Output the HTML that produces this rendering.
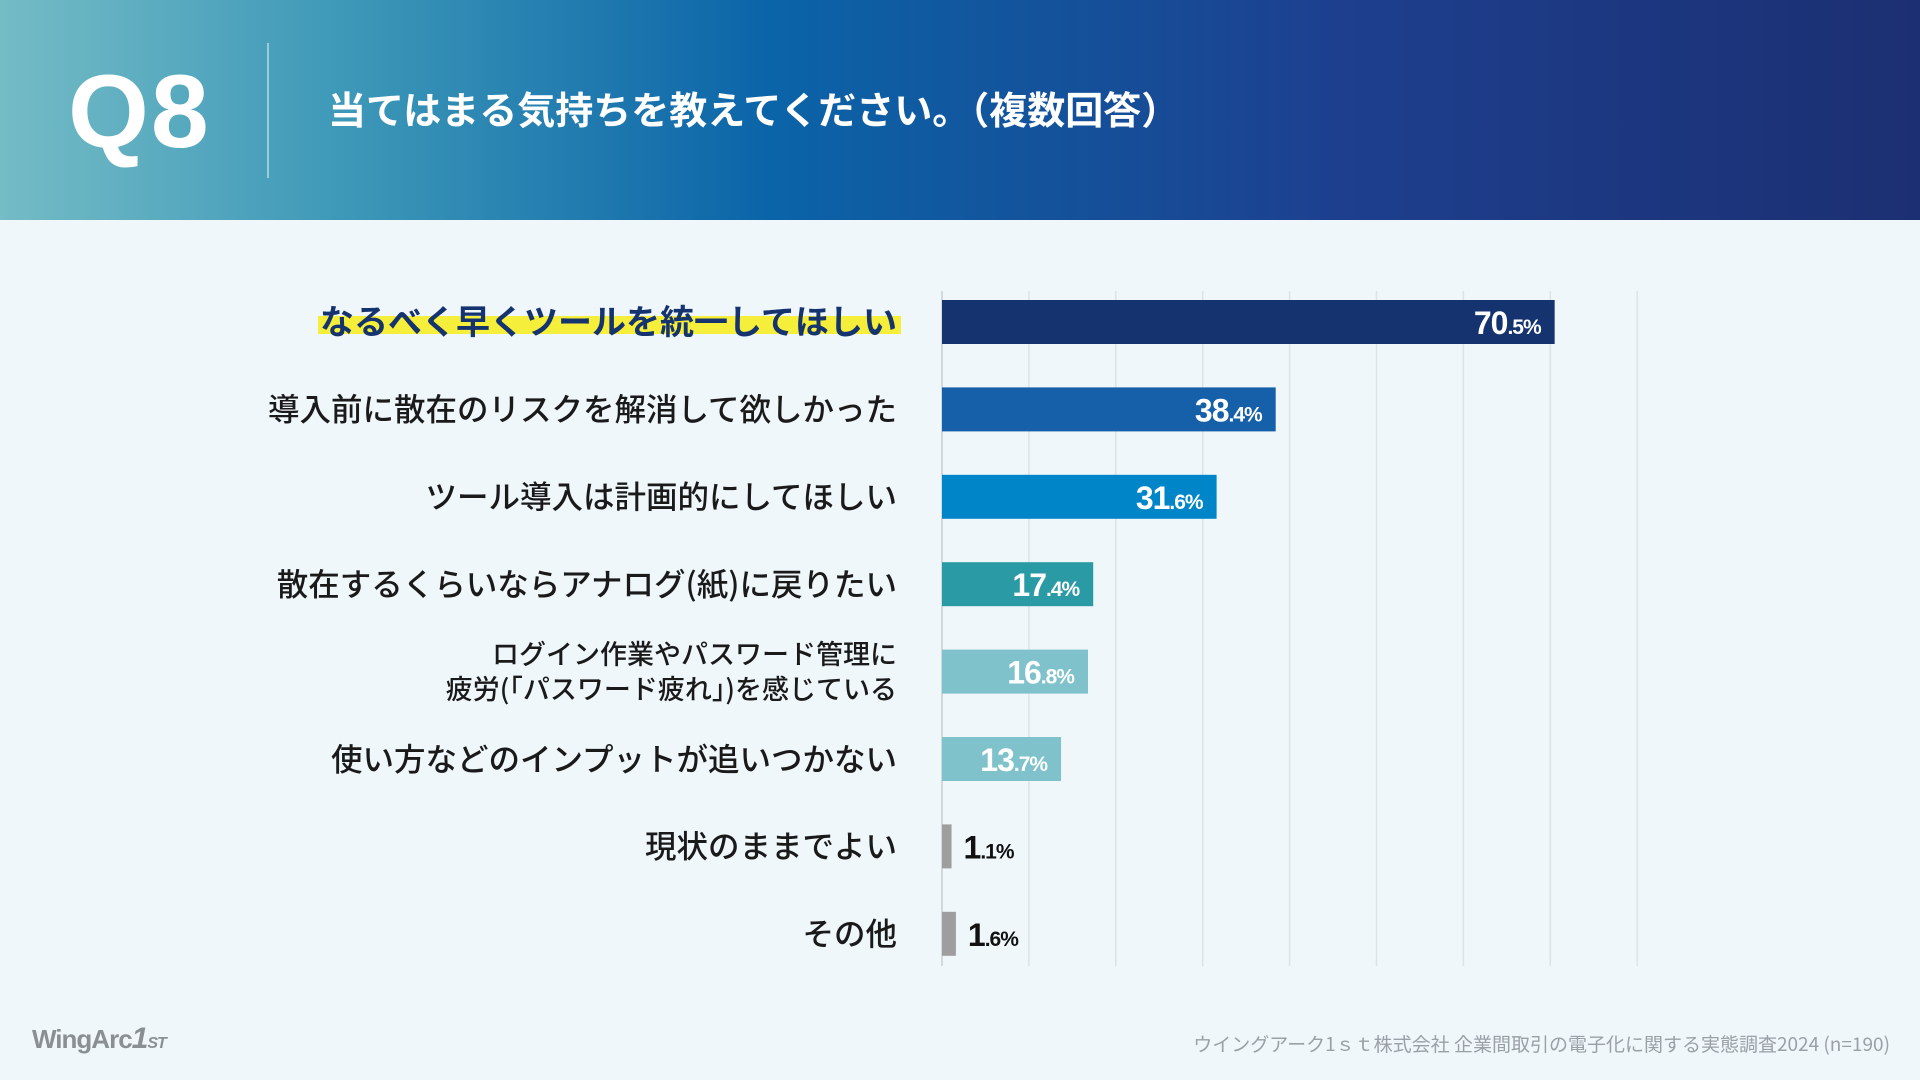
<!DOCTYPE html>
<html><head><meta charset="utf-8">
<style>
html,body{margin:0;padding:0}
body{width:1920px;height:1080px;background:#eff7fb;position:relative;overflow:hidden;font-family:"Liberation Sans","Noto Sans CJK JP",sans-serif}
#hdr{position:absolute;left:0;top:0;width:1920px;height:220px;background:linear-gradient(90deg,#74bcc6 0%,#3d98b8 18%,#0b64a8 40%,#1d3f8e 70%,#1c2f72 100%)}
#q8{position:absolute;left:68px;top:42px;font-size:104px;font-weight:bold;color:#fff;letter-spacing:2px;line-height:140px}
#div{position:absolute;left:267px;top:43px;width:2px;height:135px;background:rgba(255,255,255,0.45)}
#title{position:absolute;left:328px;top:84px;font-size:38px;font-weight:bold;color:#fff;line-height:48px;font-family:"Noto Sans CJK JP",sans-serif}
#foot-logo{position:absolute;left:32px;top:1022px;font-size:26px;font-weight:bold;color:#8a8f94;letter-spacing:-1px}
#src{position:absolute;right:30px;top:1030px;font-size:19px;color:#9aa0a6;font-family:"Noto Sans CJK JP",sans-serif}
svg{position:absolute;left:0;top:0}
</style></head><body>
<div id="hdr"></div>
<div id="q8">Q8</div>
<div id="div"></div>
<div id="title">当てはまる気持ちを教えてください。（複数回答）</div>
<svg id="chart" width="1920" height="1080"></svg>
<div id="foot-logo">WingArc<span style="font-style:italic;font-size:30px">1</span><span style="font-size:16px;font-style:italic">ST</span></div>
<div id="src">ウイングアーク1ｓｔ株式会社 企業間取引の電子化に関する実態調査2024 (n=190)</div>
<script>
const categories=[["なるべく早くツールを統一してほしい"],["導入前に散在のリスクを解消して欲しかった"],["ツール導入は計画的にしてほしい"],["散在するくらいならアナログ(紙)に戻りたい"],["ログイン作業やパスワード管理に","疲労(「パスワード疲れ」)を感じている"],["使い方などのインプットが追いつかない"],["現状のままでよい"],["その他"]];
const values=[70.5,38.4,31.6,17.4,16.8,13.7,1.1,1.6];
const colors=["#14336f","#1560a8","#0086c8","#2a9aa5","#80c2cb","#80c2cb","#9e9e9e","#9e9e9e"];
const gridTicks=[0,10,20,30,40,50,60,70,80];
const NS="http://www.w3.org/2000/svg";
const svg=document.getElementById('chart');
const x0=942,pxPer=8.69,y0=322,pitch=87.4,bh=44;
const xs=v=>x0+v*pxPer;
const ys=i=>y0+i*pitch;
function mk(t,a){const e=document.createElementNS(NS,t);for(const k in a)e.setAttribute(k,a[k]);svg.appendChild(e);return e;}
gridTicks.forEach(t=>{
 const l=mk('line',{x1:xs(t),x2:xs(t),y1:291,y2:966,stroke:t===0?'#c8cdd2':'#dde2e6','stroke-width':1.5});
 
 
});
values.forEach((v,i)=>{
 const cy=ys(i);
 if(i===0){
  const hl=mk('rect',{x:318,y:cy-6,width:583,height:18,fill:'#f5ee3a'});
  
  
 }
 const lines=categories[i];
 lines.forEach((s,j)=>{
  const fs=lines.length>1?27:(i===0?34:31.5);
  const ty=cy+(lines.length>1?(j-0.5)*35:0)+fs*0.36;
  const t=mk('text',{x:897,y:ty,'text-anchor':'end','font-size':fs,fill:i===0?'#14336f':'#1a1a1a','font-weight':i===0?'bold':'500','font-family':'"Noto Sans CJK JP",sans-serif'});
  t.textContent=s;
  
  
 });
 const r=mk('rect',{x:x0,y:cy-bh/2,width:xs(v)-x0,height:bh,fill:colors[i]});
 
 
 const parts=v.toFixed(1).split('.');
 const inside=v>5;
 const t=mk('text',{x:inside?xs(v)-14:xs(v)+12,y:cy+12,'text-anchor':inside?'end':'start','font-weight':'bold',fill:inside?'#fff':'#111','letter-spacing':'-1'});
 
 
 const a=document.createElementNS(NS,'tspan');a.setAttribute('font-size','32');a.textContent=parts[0];
 const b=document.createElementNS(NS,'tspan');b.setAttribute('font-size','21');b.textContent='.'+parts[1]+'%';
 t.appendChild(a);t.appendChild(b);
});
</script>
</body></html>
